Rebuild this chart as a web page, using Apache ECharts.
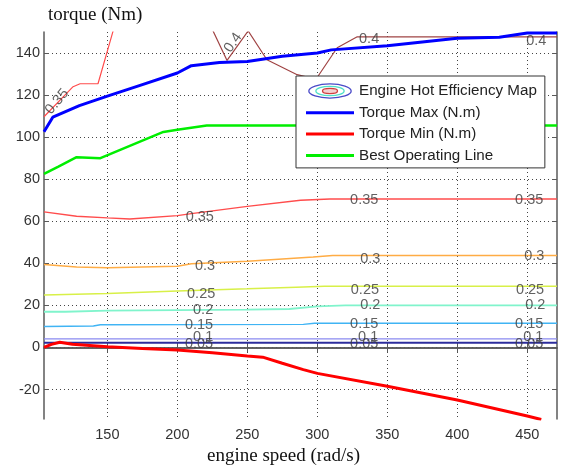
<!DOCTYPE html>
<html>
<head>
<meta charset="utf-8">
<script src="https://cdn.jsdelivr.net/npm/echarts@6/dist/echarts.min.js"></script>
<style>html,body{margin:0;padding:0;background:#fff}#c{width:564px;height:466px}</style>
</head>
<body>
<div id="c"></div>
<script>
// ---------- data ----------
const xMin = 104.72, xMax = 471.24, yMin = -34, yMax = 150;
const xTicks = [150, 200, 250, 300, 350, 400, 450];
const yTicks = [-20, 0, 20, 40, 60, 80, 100, 120, 140];

const torqueMax = [[104.72,102.6],[111,109.5],[130,115],[150,119.5],[175,125],[200,130.5],[210,134],[230,135.5],[250,136],[275,138.5],[300,140],[310,141.5],[350,143.5],[385,146],[400,147],[430,147.5],[450,149.5],[471.24,149.5]];
const torqueMin = [[104.72,0],[110,1.5],[116,2.5],[125,1.5],[150,0.3],[175,-0.5],[200,-1.2],[225,-2.5],[250,-4],[261,-4.6],[275,-7.5],[290,-10.5],[300,-12.3],[350,-18.4],[400,-25],[450,-32.6],[460,-34.2]];
const bestLine = [[104.72,82.5],[115,86],[128,90.5],[145,90],[190,102.5],[200,103.5],[221,105.5],[471.24,105.5]];

const c005 = [[104.72,2.2],[471.24,2.2]];
const c010 = [[104.72,4.1],[471.24,4.1]];
const c015 = [[104.72,10],[140,10.2],[145,10.8],[290,11],[298,11.5],[471.24,11.5]];
const c020 = [[104.72,17],[120,17],[150,17.5],[250,18],[280,18.3],[300,19.5],[320,20],[471.24,20]];
const c025 = [[104.72,25],[150,25.7],[200,26.8],[250,27.9],[285,28.7],[305,29.1],[471.24,29.1]];
const c030 = [[104.72,39.4],[128,38.3],[150,37.9],[200,38.6],[210,39.8],[250,41],[275,42.1],[297,43],[311,43.7],[471.24,43.7]];
const c035a = [[104.72,64.5],[128,62.4],[150,61.6],[166,61.1],[200,62.7],[210,63.6],[250,67.1],[288,70],[309,70.6],[471.24,70.6]];
const c035b = [[104.72,109.7],[125.5,124],[130.5,125.4],[143.3,125.4],[154.1,150.5]];
const c040 = [[225.5,150.5],[235.5,136.5],[250.6,150.5],[264,136.8],[285.6,129.7],[293.5,128.5],[300,128.5],[314.2,142.5],[328.5,147.7],[471.24,147.7]];

// contour label positions: [x, y, text, rotation]
const contourLabels = [
  [216,62.2,'0.35',0],[333.5,70.3,'0.35',0],[451.4,70.3,'0.35',0],
  [219.8,38.6,'0.3',0],[337.8,42.3,'0.3',0],[455,43.7,'0.3',0],
  [217,25.2,'0.25',0],[334,27.5,'0.25',0],[452,27.5,'0.25',0],
  [218.4,17.7,'0.2',0],[337.8,20,'0.2',0],[455.7,20,'0.2',0],
  [215.5,10.9,'0.15',0],[333.5,11.4,'0.15',0],[451.4,11.4,'0.15',0],
  [218.4,5.1,'0.1',0],[336.3,5.1,'0.1',0],[454.3,5.1,'0.1',0],
  [215.5,1.8,'0.05',0],[333.5,1.8,'0.05',0],[451.4,1.8,'0.05',0],
  [337,146.6,'0.4',0],[456.4,145.5,'0.4',0],[239.8,144.9,'0.4',55],
  [114,116.9,'0.35',50]
];

// ---------- chart ----------
const MAP = 'Engine Hot Efficiency Map';
const iconSvg = '<svg xmlns="http://www.w3.org/2000/svg" width="48" height="17" viewBox="0 0 48 17">' +
  '<ellipse cx="24" cy="8.5" rx="22.5" ry="7.5" fill="none" stroke="#4a4ac8" stroke-width="1.4"/>' +
  '<ellipse cx="24" cy="8.5" rx="15" ry="5" fill="none" stroke="#50e0c8" stroke-width="1.4"/>' +
  '<ellipse cx="24" cy="8.5" rx="8" ry="2.8" fill="#f4d0d0" stroke="#d04040" stroke-width="1.4"/>' +
  '</svg>';
const iconUrl = 'image://data:image/svg+xml;charset=utf-8,' + encodeURIComponent(iconSvg);
const lineIcon = 'path://M0,0H48V3H0Z';

function contour(data, color, width) {
  return { name: MAP, type: 'line', data: data, symbol: 'none', showSymbol: false,
    lineStyle: { color: color, width: width || 1.2 }, itemStyle: { color: color },
    silent: true, animation: false, z: 2 };
}

const tickFont = { fontFamily: 'Liberation Sans, Arial, sans-serif', fontSize: 14.5, color: '#333' };
const axLine = { show: true, lineStyle: { color: '#5a5a5a', width: 1.5 } };
const gridLine = { show: true, lineStyle: { color: '#444', type: [1, 3], width: 1 } };
const titleFont = { fontFamily: 'Liberation Serif, Times New Roman, serif', fontSize: 19, color: '#111' };

const chart = echarts.init(document.getElementById('c'), null, { renderer: 'canvas' });
chart.setOption({
  animation: false,
  backgroundColor: '#fff',
  grid: { left: 44, right: 7, top: 32, bottom: 47, outerBoundsMode: 'none', containLabel: false },
  xAxis: [
    { type: 'value', min: xMin, max: xMax, position: 'bottom',
      axisLine: axLine,
      axisTick: { show: true, inside: true, length: 5, customValues: xTicks, lineStyle: { color: '#5a5a5a' } },
      axisLabel: Object.assign({ customValues: xTicks, margin: 8 }, tickFont),
      splitLine: gridLine,
      name: 'engine speed (rad/s)', nameLocation: 'middle', nameGap: 24,
      nameTextStyle: Object.assign({ padding: [0, 34, 0, 0] }, titleFont) },
    { type: 'value', min: xMin, max: xMax, position: 'top',
      axisLine: axLine,
      axisTick: { show: true, inside: true, length: 5, customValues: xTicks, lineStyle: { color: '#5a5a5a' } },
      axisLabel: { show: false }, splitLine: { show: false } }
  ],
  yAxis: [
    { type: 'value', min: yMin, max: yMax, position: 'left',
      axisLine: axLine,
      axisTick: { show: true, inside: true, length: 5, customValues: yTicks, lineStyle: { color: '#5a5a5a' } },
      axisLabel: Object.assign({ customValues: yTicks, margin: 4 }, tickFont),
      splitLine: gridLine,
      name: 'torque (Nm)', nameLocation: 'end', nameGap: 7,
      nameTextStyle: Object.assign({ align: 'left', padding: [0, 0, 0, 4] }, titleFont) },
    { type: 'value', min: yMin, max: yMax, position: 'right',
      axisLine: axLine,
      axisTick: { show: true, inside: true, length: 5, customValues: yTicks, lineStyle: { color: '#5a5a5a' } },
      axisLabel: { show: false }, splitLine: { show: false } }
  ],
  legend: {
    z: 20,
    left: 296, top: 76, orient: 'vertical',
    backgroundColor: '#fff', borderColor: '#333', borderWidth: 1, borderRadius: 0,
    padding: [7, 8, 5, 10], itemGap: 6.3, itemWidth: 48, itemHeight: 16,
    symbolKeepAspect: true,
    textStyle: { fontFamily: 'Liberation Sans, Arial, sans-serif', fontSize: 15.2, color: '#222' },
    selectedMode: false,
    data: [
      { name: MAP, icon: iconUrl },
      { name: 'Torque Max (N.m)', icon: lineIcon },
      { name: 'Torque Min (N.m)', icon: lineIcon },
      { name: 'Best Operating Line', icon: lineIcon }
    ]
  },
  series: [
    contour(c005, '#2c2c9c', 2),
    contour(c010, '#8a8af0', 1.2),
    contour(c015, '#40b4f4', 1.4),
    contour(c020, '#80f4cc', 1.8),
    contour(c025, '#d8f048', 1.5),
    contour(c030, '#ffac44', 1.5),
    contour(c035a, '#ff4c4c', 1.3),
    contour(c035b, '#ff4c4c', 1.2),
    contour(c040, '#a04444', 1.2),
    { name: 'Torque Max (N.m)', type: 'line', data: torqueMax, symbol: 'none', showSymbol: false,
      lineStyle: { color: '#0000ff', width: 3 }, itemStyle: { color: '#0000ff' }, z: 3 },
    { name: 'Torque Min (N.m)', type: 'line', data: torqueMin, symbol: 'none', showSymbol: false,
      lineStyle: { color: '#ff0000', width: 3 }, itemStyle: { color: '#ff0000' }, z: 3 },
    { name: 'Best Operating Line', type: 'line', data: bestLine, symbol: 'none', showSymbol: false,
      lineStyle: { color: '#00ee00', width: 2.5 }, itemStyle: { color: '#00ee00' }, z: 3 },
    { name: 'labels', type: 'scatter', symbolSize: 0, silent: true, z: 3,
      data: contourLabels.map(function (d) {
        return { value: [d[0], d[1]], label: { show: true, position: 'inside', formatter: d[2], rotate: d[3],
          fontFamily: 'Liberation Sans, Arial, sans-serif', fontSize: 14.5, color: '#3a3a3a' } };
      }) }
  ]
});
</script>
</body>
</html>
